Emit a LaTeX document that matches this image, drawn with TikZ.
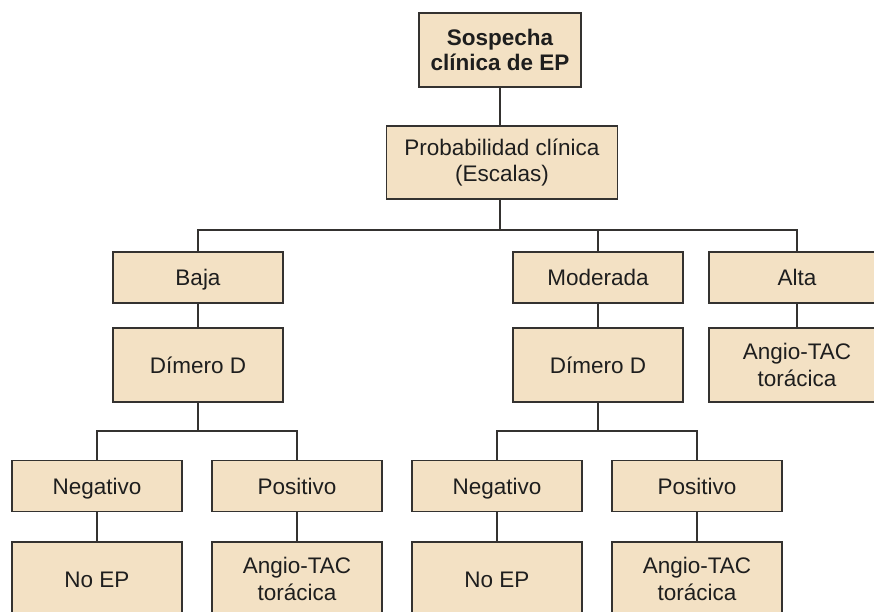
\documentclass[tikz,border=0pt]{standalone}
\usepackage{fontspec}
\setmainfont{Liberation Sans}
\definecolor{boxfill}{RGB}{243,225,196}
\definecolor{edge}{RGB}{52,50,48}
\definecolor{ink}{RGB}{30,30,30}
\begin{document}
\begin{tikzpicture}[x=1pt,y=-1pt,
  stepbox/.style={draw=edge,fill=boxfill,line width=1.8pt,text=ink,align=center,
    inner sep=0pt,minimum width=170pt,
    font=\fontsize{22.5}{26.5}\selectfont},
  oneline/.style={text height=16pt,text depth=0pt},
  short/.style={stepbox,oneline,minimum height=51pt},
  tall/.style={stepbox,minimum height=74pt},
  link/.style={draw=edge,line width=1.8pt}]
\useasboundingbox (0,0) rectangle (874,611);
\clip (0,0) rectangle (874,611);

% root and clinical probability
\node[tall,minimum width=162pt,font=\fontsize{22.5}{24.5}\selectfont\bfseries] (root) at (500,50) {Sospecha\\clínica de EP};
\node[tall,minimum width=231pt,minimum height=73pt] (prob) at (502,162.5) {Probabilidad clínica\\(Escalas)};

% probability levels
\node[short] (baja) at (198,277.5) {Baja};
\node[short] (mod) at (598,277.5) {Moderada};
\node[short,minimum width=176pt] (alta) at (797,277.5) {Alta};

% second row
\node[tall,oneline] (dimA) at (198,365) {Dímero D};
\node[tall,oneline] (dimB) at (598,365) {Dímero D};
\node[tall,minimum width=176pt] (angA) at (797,365) {Angio-TAC\\torácica};

% D-dimer results
\node[short] (negA) at (97,486) {Negativo};
\node[short] (posA) at (297,486) {Positivo};
\node[short] (negB) at (497,486) {Negativo};
\node[short] (posB) at (697,486) {Positivo};

% final outcomes
\node[tall,oneline] (noA) at (97,579) {No EP};
\node[tall] (ctA) at (297,579) {Angio-TAC\\torácica};
\node[tall,oneline] (noB) at (497,579) {No EP};
\node[tall] (ctB) at (697,579) {Angio-TAC\\torácica};

% connectors
\coordinate (barP) at (500,230);
\coordinate (barA) at (198,431);
\coordinate (barB) at (598,431);

\draw[link] (root.south) -- (root.south |- prob.north);
\draw[link] (prob.south -| barP) -- (barP);
\draw[link] (baja.north) -- (baja.north |- barP) -- (alta.north |- barP) -- (alta.north);
\draw[link] (mod.north) -- (mod.north |- barP);

\draw[link] (baja) -- (dimA);
\draw[link] (mod) -- (dimB);
\draw[link] (alta) -- (angA);

\draw[link] (dimA.south) -- (barA);
\draw[link] (negA.north) -- (negA.north |- barA) -- (posA.north |- barA) -- (posA.north);
\draw[link] (dimB.south) -- (barB);
\draw[link] (negB.north) -- (negB.north |- barB) -- (posB.north |- barB) -- (posB.north);

\draw[link] (negA) -- (noA);
\draw[link] (posA) -- (ctA);
\draw[link] (negB) -- (noB);
\draw[link] (posB) -- (ctB);
\end{tikzpicture}
\end{document}
